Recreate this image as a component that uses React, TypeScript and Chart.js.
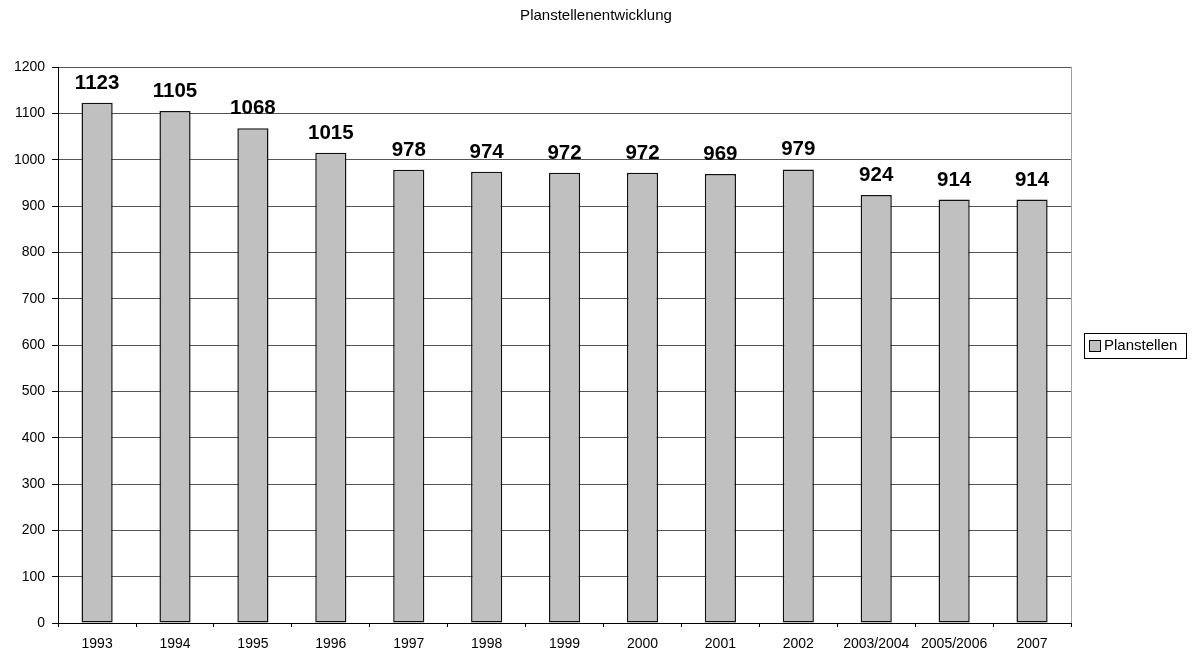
import React, { useEffect, useRef } from "react";
import { Chart, registerables } from "chart.js";

Chart.register(...registerables);

const categories = ["1993", "1994", "1995", "1996", "1997", "1998", "1999", "2000", "2001", "2002", "2003/2004", "2005/2006", "2007"];
const planstellen = [1123, 1105, 1068, 1015, 978, 974, 972, 972, 969, 979, 924, 914, 914];
const chartTitle = "Planstellenentwicklung";
const seriesName = "Planstellen";

const FONT = "'Liberation Sans', Arial, sans-serif";

const frameAndLabels = {
  id: "frameAndLabels",
  beforeDatasetsDraw(chart: any) {
    const { ctx, chartArea } = chart;
    ctx.save();
    ctx.strokeStyle = "#a0a0a0";
    ctx.lineWidth = 1;
    ctx.beginPath();
    ctx.moveTo(chartArea.right + 0.5, chartArea.top);
    ctx.lineTo(chartArea.right + 0.5, chartArea.bottom);
    ctx.stroke();
    ctx.restore();
  },
  afterDatasetsDraw(chart: any) {
    const { ctx } = chart;
    const meta = chart.getDatasetMeta(0);
    ctx.save();
    ctx.font = `bold 20.5px ${FONT}`;
    ctx.fillStyle = "#000";
    ctx.textAlign = "center";
    ctx.textBaseline = "alphabetic";
    meta.data.forEach((bar: any, i: number) => {
      ctx.fillText(String(chart.data.datasets[0].data[i]), bar.x, bar.y - 14);
    });
    ctx.restore();
  },
  afterDraw(chart: any) {
    const { ctx, chartArea, width } = chart;
    // title, centred over the whole canvas
    ctx.save();
    ctx.font = `15px ${FONT}`;
    ctx.fillStyle = "#000";
    ctx.textAlign = "center";
    ctx.textBaseline = "middle";
    ctx.fillText(chartTitle, width / 2, 16);
    ctx.restore();

    // legend box to the right of the plot area, vertically centred on it
    const ds = chart.data.datasets[0];
    const cy = (chartArea.top + chartArea.bottom) / 2;
    const left = chartArea.right + 13;
    ctx.save();
    ctx.font = `15px ${FONT}`;
    const tw = ctx.measureText(ds.label).width;
    const boxW = 11;
    const w = 5 + boxW + 4 + tw + 9;
    ctx.strokeStyle = "#000";
    ctx.lineWidth = 1;
    ctx.strokeRect(Math.round(left) + 0.5, Math.round(cy - 12.5) + 0.5, Math.round(w), 25);
    ctx.fillStyle = ds.backgroundColor;
    const bx = Math.round(left + 5) + 0.5;
    const by = Math.round(cy - 5.5) + 0.5;
    ctx.fillRect(bx, by, boxW, boxW);
    ctx.strokeStyle = "#000";
    ctx.strokeRect(bx, by, boxW, boxW);
    ctx.fillStyle = "#000";
    ctx.textAlign = "left";
    ctx.textBaseline = "middle";
    ctx.fillText(ds.label, left + 5 + boxW + 4, cy + 1);
    ctx.restore();
  },
};

export default function App() {
  const ref = useRef<HTMLCanvasElement | null>(null);
  useEffect(() => {
    if (!ref.current) return;
    const chart = new Chart(ref.current, {
      type: "bar",
      data: {
        labels: categories,
        datasets: [
          {
            label: seriesName,
            data: planstellen,
            backgroundColor: "#c0c0c0",
            borderColor: "#111",
            borderWidth: 1.5,
            borderSkipped: false,
            categoryPercentage: 1,
            barPercentage: 0.4,
          },
        ],
      },
      options: {
        animation: false,
        responsive: false,
        devicePixelRatio: 1,
        layout: { padding: { left: 7, right: 121, top: 67, bottom: -11 } },
        plugins: {
          title: { display: false },
          legend: { display: false },
          tooltip: { enabled: false },
        },
        scales: {
          x: {
            grid: {
              display: true,
              drawOnChartArea: false,
              drawTicks: true,
              offset: true,
              tickLength: 4,
              color: "#000",
            },
            border: { display: true, color: "#000", width: 1 },
            ticks: {
              color: "#000",
              font: { family: FONT, size: 14, lineHeight: 1 },
              padding: 10,
              maxRotation: 0,
              autoSkip: false,
            },
          },
          y: {
            min: 0,
            max: 1200,
            grid: {
              display: true,
              color: "#555",
              drawTicks: true,
              tickLength: 6,
              tickColor: "#000",
            },
            border: { display: true, color: "#000", width: 1 },
            ticks: {
              stepSize: 100,
              color: "#000",
              font: { family: FONT, size: 14 },
              padding: 7,
              callback: (v: any) => String(v),
            },
          },
        },
      },
      plugins: [frameAndLabels],
    });
    return () => chart.destroy();
  }, []);
  return (
    <div style={{ position: "fixed", left: 0, top: 0, width: 1192, height: 650, background: "#fff" }}>
      <canvas ref={ref} width={1192} height={650} style={{ width: 1192, height: 650, display: "block" }} />
    </div>
  );
}
